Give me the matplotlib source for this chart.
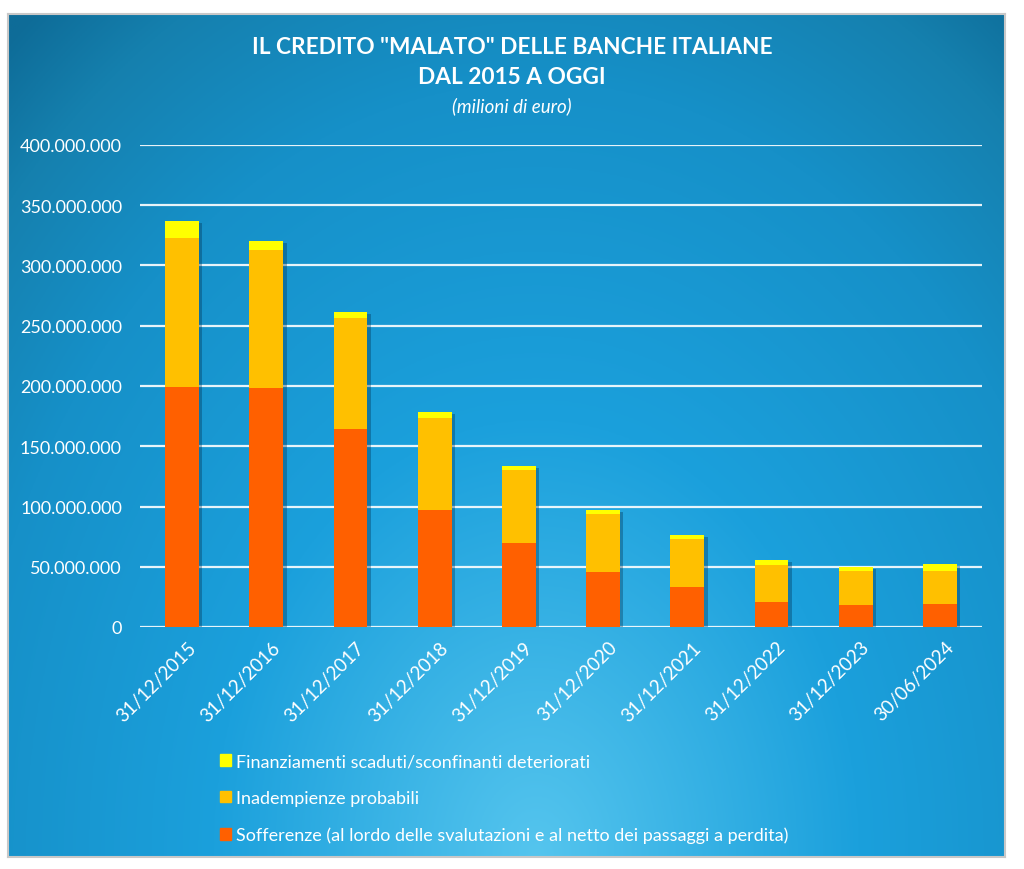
import numpy as np
import matplotlib.pyplot as plt
import matplotlib.patheffects as pe
from matplotlib.patches import Rectangle
from matplotlib.transforms import ScaledTranslation
from matplotlib.colors import to_rgb

# --- dati ---
date = ["31/12/2015", "31/12/2016", "31/12/2017", "31/12/2018", "31/12/2019",
        "31/12/2020", "31/12/2021", "31/12/2022", "31/12/2023", "30/06/2024"]
sofferenze   = [199.2, 198.3, 164.3, 97.1, 69.7, 45.9, 33.4, 21.0, 18.5, 19.3]
inadempienze = [123.6, 114.8, 92.4, 76.3, 60.6, 47.9, 39.6, 30.5, 27.7, 27.4]
scaduti      = [14.1, 7.2, 4.7, 4.8, 3.3, 3.3, 3.1, 4.4, 3.8, 5.8]
yticks = [0, 50, 100, 150, 200, 250, 300, 350, 400]

lab_scad = "Finanziamenti scaduti/sconfinanti deteriorati"
lab_inad = "Inadempienze probabili"
lab_soff = "Sofferenze (al lordo delle svalutazioni e al netto dei passaggi a perdita)"

C_SOFF = "#FF6000"
C_INAD = "#FFC000"
C_SCAD = "#FFFF00"
FONT = "Lato"

W, H = 1024, 870
fig = plt.figure(figsize=(W / 100, H / 100), dpi=100)
fig.patch.set_facecolor("white")

# --- sfondo sfumato del pannello ---
bg = fig.add_axes([8 / W, 1 - 858 / H, 997 / W, 843 / H])
nx, ny = 400, 340
gx, gy = np.meshgrid(np.linspace(0, 1, nx), np.linspace(0, 1, ny))
d = np.sqrt(((gx - 0.53) / 0.72) ** 2 + ((gy - 1.0) / 1.15) ** 2)
stops_t = [0.0, 0.45, 0.8, 1.0, 1.12]
stops_c = np.array([to_rgb(c) for c in ["#55C5EE", "#1BA0DC", "#1690C8", "#1580AE", "#0E6C98"]])
img = np.stack([np.interp(d, stops_t, stops_c[:, k]) for k in range(3)], axis=-1)
bg.imshow(img, aspect="auto", extent=(0, 1, 0, 1), origin="upper")
bg.set_xlim(0, 1)
bg.set_ylim(0, 1)
bg.set_xticks([])
bg.set_yticks([])
for s in bg.spines.values():
    s.set_edgecolor("#C8C8C8")
    s.set_linewidth(1.5)

# --- grafico ---
ax = fig.add_axes([140 / W, 1 - 628 / H, 842 / W, (628 - 146) / H])
ax.set_facecolor("none")
x = np.arange(len(date))
sof = np.array(sofferenze) * 1e6
ina = np.array(inadempienze) * 1e6
sca = np.array(scaduti) * 1e6

shadow = [pe.SimplePatchShadow(offset=(2.5, -1.5), alpha=0.35, shadow_rgbFace="#003050"), pe.Normal()]
b1 = ax.bar(x, sof, 0.4, color=C_SOFF, zorder=5)
b2 = ax.bar(x, ina, 0.4, bottom=sof, color=C_INAD, zorder=4)
b3 = ax.bar(x, sca, 0.4, bottom=sof + ina, color=C_SCAD, zorder=3)
for bars in (b1, b2, b3):
    for p in bars:
        p.set_path_effects(shadow)

ax.set_xlim(-0.5, len(date) - 0.5)
ax.set_ylim(0, 400e6)
ax.set_yticks([v * 1e6 for v in yticks])
ax.set_yticklabels([f"{v * 1_000_000:,}".replace(",", ".") for v in yticks],
                   color="white", fontsize=13, family=FONT)
ax.yaxis.grid(True, color="white", lw=1.6, alpha=0.9, zorder=1)
ax.set_axisbelow(True)
ax.tick_params(axis="y", length=0, pad=13)
ax.tick_params(axis="x", length=0, pad=8)
ax.set_xticks(x)
ax.set_xticklabels(date, rotation=45, ha="right", va="top", rotation_mode="anchor",
                   color="white", fontsize=13.5, family=FONT)
off = ScaledTranslation(5 / 100, 0, fig.dpi_scale_trans)
for lbl in ax.get_xticklabels():
    lbl.set_transform(lbl.get_transform() + off)
for s in ax.spines.values():
    s.set_visible(False)

# --- titoli ---
fig.text(0.5, 1 - 47 / H, 'IL CREDITO "MALATO" DELLE BANCHE ITALIANE', ha="center", va="center",
         color="white", fontsize=16.3, fontweight="bold", family=FONT)
fig.text(0.5, 1 - 77 / H, "DAL 2015 A OGGI", ha="center", va="center",
         color="white", fontsize=16.3, fontweight="bold", family=FONT)
fig.text(0.5, 1 - 106 / H, "(milioni di euro)", ha="center", va="center",
         color="white", fontsize=13.5, style="italic", family=FONT)

# --- legenda ---
handles = [Rectangle((0, 0), 1, 1, color=C_SCAD),
           Rectangle((0, 0), 1, 1, color=C_INAD),
           Rectangle((0, 0), 1, 1, color=C_SOFF)]
leg = fig.legend(handles, [lab_scad, lab_inad, lab_soff], loc="upper left",
                 bbox_to_anchor=(204 / W, 1 - 738 / H), frameon=False,
                 handlelength=0.6, handleheight=0.6, handletextpad=0.3,
                 labelspacing=1.15, prop={"family": FONT, "size": 13})
for txt in leg.get_texts():
    txt.set_color("white")

fig.savefig("out.png", dpi=100, facecolor="white")
